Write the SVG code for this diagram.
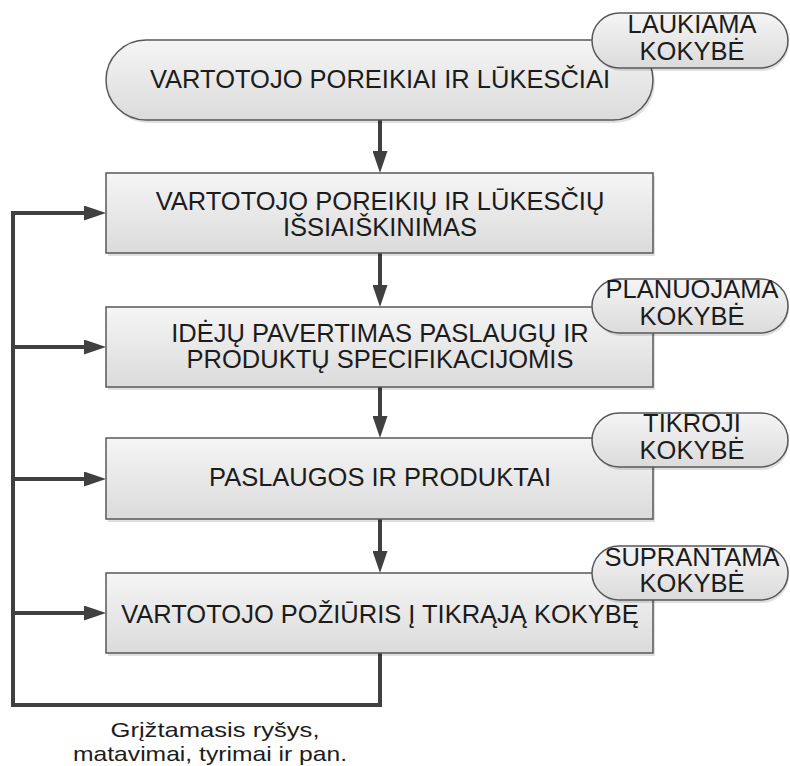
<svg xmlns="http://www.w3.org/2000/svg" width="790" height="766" viewBox="0 0 790 766">
  <defs>
    <linearGradient id="fill" x1="0" y1="0" x2="0" y2="1">
      <stop offset="0" stop-color="#f5f5f5"/>
      <stop offset="1" stop-color="#dbdbdb"/>
    </linearGradient>
    <marker id="head" markerUnits="userSpaceOnUse" markerWidth="22" markerHeight="15" refX="0" refY="7.5" orient="auto">
      <path d="M0,0 L22,7.5 L0,15 Z" fill="#404040"/>
    </marker>
    <style>
      .shape { fill: url(#fill); stroke: #585858; stroke-width: 1.5; }
      .shadow { fill: #000; opacity: 0.12; }
      .t { font-family: "Liberation Sans", Arial, sans-serif; font-size: 25.5px; fill: #1c1c1c; text-anchor: middle; }
      .note { font-family: "Liberation Sans", Arial, sans-serif; font-size: 21px; fill: #1c1c1c; text-anchor: middle; }
      .wire { fill: none; stroke: #404040; stroke-width: 4; }
      .arrow { fill: none; stroke: #404040; stroke-width: 4; marker-end: url(#head); }
    </style>
  </defs>

  <!-- flow and feedback connectors -->
  <g id="connectors">
    <path class="arrow" d="M380,120 V151"/>
    <path class="arrow" d="M380,253 V285"/>
    <path class="arrow" d="M380,387 V416"/>
    <path class="arrow" d="M380,519 V551"/>
    <path class="wire" d="M380,653 V705 H13 V211"/>
    <path class="arrow" d="M13,213 H84"/>
    <path class="arrow" d="M13,347 H84"/>
    <path class="arrow" d="M13,479 H84"/>
    <path class="arrow" d="M13,613 H84"/>
  </g>

  <!-- customer needs (terminator) -->
  <g id="needs">
    <rect class="shadow" x="108" y="43" width="547" height="80" rx="40"/>
    <rect class="shape" x="106" y="40" width="547" height="80" rx="40"/>
    <text class="t" x="380" y="88">VARTOTOJO POREIKIAI IR LŪKESČIAI</text>
  </g>
  <g id="expected">
    <rect class="shadow" x="594" y="16" width="195" height="55" rx="27.5"/>
    <rect class="shape" x="592" y="13" width="196" height="55" rx="27.5"/>
    <text class="t" x="692" y="33">LAUKIAMA</text>
    <text class="t" x="692" y="60">KOKYBĖ</text>
  </g>

  <g id="clarify">
    <rect class="shadow" x="108" y="176" width="547" height="80"/>
    <rect class="shape" x="106" y="173" width="547" height="80"/>
    <text class="t" x="380" y="210">VARTOTOJO POREIKIŲ IR LŪKESČIŲ</text>
    <text class="t" x="380" y="236">IŠSIAIŠKINIMAS</text>
  </g>

  <g id="specify">
    <rect class="shadow" x="108" y="310" width="547" height="80"/>
    <rect class="shape" x="106" y="307" width="547" height="80"/>
    <text class="t" x="380" y="342">IDĖJŲ PAVERTIMAS PASLAUGŲ IR</text>
    <text class="t" x="380" y="368">PRODUKTŲ SPECIFIKACIJOMIS</text>
  </g>
  <g id="planned">
    <rect class="shadow" x="594" y="282" width="195" height="54" rx="27"/>
    <rect class="shape" x="592" y="279" width="196" height="54" rx="27"/>
    <text class="t" x="692" y="298">PLANUOJAMA</text>
    <text class="t" x="692" y="325">KOKYBĖ</text>
  </g>

  <g id="products">
    <rect class="shadow" x="108" y="441" width="547" height="81"/>
    <rect class="shape" x="106" y="438" width="547" height="81"/>
    <text class="t" x="380" y="486">PASLAUGOS IR PRODUKTAI</text>
  </g>
  <g id="actual">
    <rect class="shadow" x="594" y="416" width="195" height="54" rx="27"/>
    <rect class="shape" x="592" y="413" width="196" height="54" rx="27"/>
    <text class="t" x="692" y="432">TIKROJI</text>
    <text class="t" x="692" y="459">KOKYBĖ</text>
  </g>

  <g id="perception">
    <rect class="shadow" x="108" y="576" width="547" height="80"/>
    <rect class="shape" x="106" y="573" width="547" height="80"/>
    <text class="t" x="380" y="623">VARTOTOJO POŽIŪRIS Į TIKRĄJĄ KOKYBĘ</text>
  </g>
  <g id="perceived">
    <rect class="shadow" x="594" y="549" width="195" height="54" rx="27"/>
    <rect class="shape" x="592" y="546" width="196" height="54" rx="27"/>
    <text class="t" x="692" y="566">SUPRANTAMA</text>
    <text class="t" x="692" y="592">KOKYBĖ</text>
  </g>

  <g id="feedback-label">
    <text class="note" x="215" y="737" textLength="209" lengthAdjust="spacingAndGlyphs">Grįžtamasis ryšys,</text>
    <text class="note" x="210" y="761" textLength="274" lengthAdjust="spacingAndGlyphs">matavimai, tyrimai ir pan.</text>
  </g>
</svg>
